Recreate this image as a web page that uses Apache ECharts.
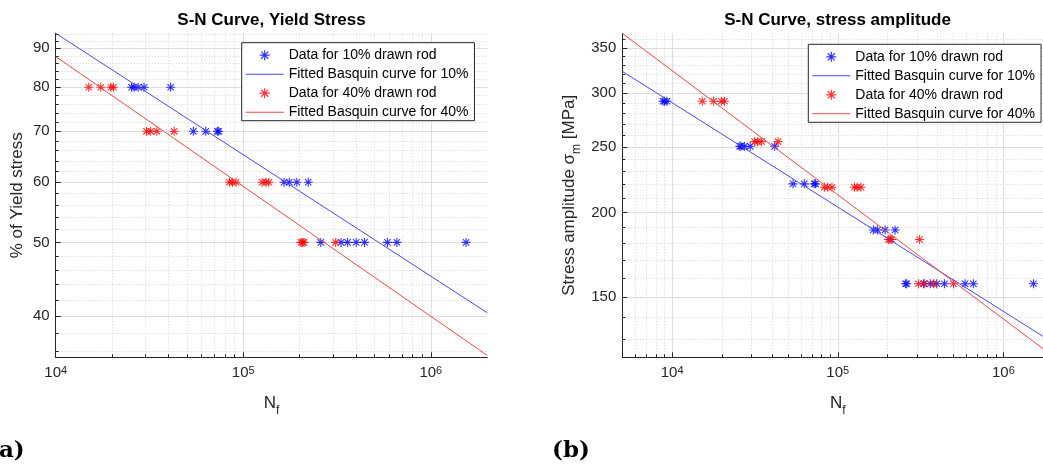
<!DOCTYPE html>
<html>
<head>
<meta charset="utf-8">
<script src="https://cdn.jsdelivr.net/npm/echarts@6/dist/echarts.min.js"></script>
<style>
  html, body { margin: 0; padding: 0; background: #fff; }
  #chart { width: 1043px; height: 471px; }
</style>
</head>
<body>
<div id="chart"></div>
<script>
// (a) % of yield stress against cycles to failure
var yield10N = [25400, 26200, 27500, 29600, 41000, 54200, 63100, 72800, 74000,
  165000, 176000, 193000, 222000, 259000, 332000, 360000, 400000, 443000, 587000, 659000, 1540000];
var yield10S = [80, 80, 80, 80, 80, 70, 70, 70, 70, 60, 60, 60, 60, 50, 50, 50, 50, 50, 50, 50, 50];
var yield40N = [15000, 17400, 19700, 20300, 30500, 32100, 34600, 42800, 84300, 87500, 91600,
  126000, 132000, 137000, 203000, 207000, 211000, 311000];
var yield40S = [80, 80, 80, 80, 70, 70, 70, 70, 60, 60, 60, 60, 60, 60, 50, 50, 50, 50];
var yieldFitN = [1e4, 2e6];
var yieldFit10S = [94.2, 40.4];
var yieldFit40S = [87.8, 35.5];

// (b) stress amplitude [MPa] against cycles to failure
var amp10N = [8800, 9000, 9300, 25600, 26000, 27300, 29600, 41600, 53700, 62800, 72100, 73400,
  164000, 174000, 193000, 222000, 257000, 261000, 330000, 362000, 396000, 441000, 587000, 659000, 1520000];
var amp10S = [292, 292, 292, 250.5, 250.5, 250.5, 250.5, 250.5, 220.5, 220.5, 220.5, 220.5,
  188.5, 188.5, 188.5, 188.5, 157, 157, 157, 157, 157, 157, 157, 157, 157];
var amp40N = [15200, 17800, 19800, 20700, 31500, 32800, 34700, 43600, 83000, 86900, 92300,
  126000, 131000, 138000, 202000, 207000, 212000, 312000, 307000, 333000, 379000, 500000];
var amp40S = [292, 292, 292, 292, 254.5, 254.5, 254.5, 254.5, 218, 218, 218, 218, 218, 218,
  182.5, 182.5, 182.5, 182.5, 157, 157, 157, 157];
var ampFitN = [5000, 2e6];
var ampFit10S = [323.2, 128.5];
var ampFit40S = [367.8, 122.7];

// tick values
var decadeX = [1e4, 1e5, 1e6];
var yieldMinorX = [2e4, 3e4, 4e4, 5e4, 6e4, 7e4, 8e4, 9e4, 2e5, 3e5, 4e5, 5e5, 6e5, 7e5, 8e5, 9e5];
var ampMinorX = [6e3, 7e3, 8e3, 9e3, 2e4, 3e4, 4e4, 5e4, 6e4, 7e4, 8e4, 9e4,
  2e5, 3e5, 4e5, 5e5, 6e5, 7e5, 8e5, 9e5];
var yieldMajorY = [40, 50, 60, 70, 80, 90];
var yieldMinorY = [36, 38, 42, 44, 46, 48, 52, 54, 56, 58, 62, 64, 66, 68, 72, 74, 76, 78, 82, 84, 86, 88, 92, 94];
var ampMajorY = [150, 200, 250, 300, 350];
var ampMinorY = [130, 140, 160, 170, 180, 190, 210, 220, 230, 240, 260, 270, 280, 290, 310, 320, 330, 340, 360];

var names = ['Data for 10% drawn rod', 'Fitted Basquin curve for 10%',
  'Data for 40% drawn rod', 'Fitted Basquin curve for 40%'];

var FONT = 'Liberation Sans, Arial, sans-serif';
var AXIS = '#262626';
var asterisk = 'path://M-0.6,-5L0.6,-5L0.6,5L-0.6,5Z M-5,-0.6L5,-0.6L5,0.6L-5,0.6Z ' +
  'M-3.11,-3.96L3.96,3.11L3.11,3.96L-3.96,-3.11Z M-3.96,3.11L3.11,-3.96L3.96,-3.11L-3.11,3.96Z';
var dash = 'path://M0,0L38,0L38,1L0,1Z';

function zip(xs, ys) {
  return xs.map(function (x, i) { return [x, ys[i]]; });
}

var subRich = {
  t: { fontSize: 17, color: AXIS, fontFamily: FONT, lineHeight: 18, verticalAlign: 'top' },
  s: { fontSize: 12, color: AXIS, fontFamily: FONT, padding: [9, 0, 0, 0], verticalAlign: 'bottom' }
};

function majorX(grid, min, max) {
  return {
    type: 'log', gridIndex: grid, position: 'bottom', min: min, max: max,
    name: '{t|N}{s|f}', nameLocation: 'middle', nameGap: 38,
    nameTextStyle: { rich: subRich },
    axisLine: { show: true, onZero: false, lineStyle: { color: AXIS, width: 1 } },
    axisTick: { show: true, inside: true, length: 5, customValues: decadeX, lineStyle: { color: AXIS } },
    axisLabel: {
      customValues: decadeX, margin: 8, color: AXIS,
      formatter: function (v) { return '{b|10}{e|' + Math.round(Math.log10(v)) + '}'; },
      rich: {
        b: { fontSize: 15, fontFamily: FONT, color: AXIS, lineHeight: 15, verticalAlign: 'bottom' },
        e: { fontSize: 11, fontFamily: FONT, color: AXIS, lineHeight: 11, padding: [0, 0, 7, 0], verticalAlign: 'top' }
      }
    },
    splitLine: { show: true, lineStyle: { color: '#dfdfdf', width: 1 } }
  };
}

function minorX(grid, min, max, vals) {
  return {
    type: 'log', gridIndex: grid, position: 'bottom', min: min, max: max,
    axisLine: { show: false },
    axisTick: { show: true, inside: true, length: 3, customValues: vals, lineStyle: { color: AXIS } },
    axisLabel: { show: false },
    splitLine: { show: true, lineStyle: { color: '#d6d6d6', width: 1, type: [1, 2] } }
  };
}

function majorY(grid, min, max, vals, name, gap) {
  return {
    type: 'log', gridIndex: grid, position: 'left', min: min, max: max,
    name: name, nameLocation: 'middle', nameGap: gap,
    nameTextStyle: { fontSize: 17, color: AXIS, fontFamily: FONT, rich: subRich },
    axisLine: { show: true, onZero: false, lineStyle: { color: AXIS, width: 1 } },
    axisTick: { show: true, inside: true, length: 5, customValues: vals, lineStyle: { color: AXIS } },
    axisLabel: { customValues: vals, margin: 6, fontSize: 15, color: AXIS, fontFamily: FONT },
    splitLine: { show: true, lineStyle: { color: '#dfdfdf', width: 1 } }
  };
}

function minorY(grid, min, max, vals) {
  return {
    type: 'log', gridIndex: grid, position: 'left', min: min, max: max,
    axisLine: { show: false },
    axisTick: { show: true, inside: true, length: 3, customValues: vals, lineStyle: { color: AXIS } },
    axisLabel: { show: false },
    splitLine: { show: true, lineStyle: { color: '#d6d6d6', width: 1, type: [1, 2] } }
  };
}

function scatter(name, xi, data, color) {
  return {
    name: name, type: 'scatter', xAxisIndex: xi, yAxisIndex: xi, data: data,
    symbol: asterisk, symbolSize: 9, symbolKeepAspect: true,
    itemStyle: { color: color }, z: 3
  };
}

function fitLine(name, xi, data, color) {
  return {
    name: name, type: 'line', xAxisIndex: xi, yAxisIndex: xi, data: data,
    showSymbol: false, symbol: 'none', clip: true,
    lineStyle: { color: color, width: 1 }, itemStyle: { color: color }, z: 4
  };
}

function legend(left, top) {
  return {
    left: left, top: top, orient: 'vertical', selectedMode: false,
    backgroundColor: '#fff', borderColor: AXIS, borderWidth: 1,
    padding: [5, 6, 1, 4], itemWidth: 38, itemHeight: 10, itemGap: 4,
    symbolKeepAspect: true,
    textStyle: { fontSize: 14, color: '#000', fontFamily: FONT, lineHeight: 15 },
    data: [
      { name: names[0], icon: asterisk },
      { name: names[1], icon: dash },
      { name: names[2], icon: asterisk },
      { name: names[3], icon: dash }
    ]
  };
}

var chart = echarts.init(document.getElementById('chart'));

var option = {
  animation: false,
  backgroundColor: '#fff',
  title: [
    { text: 'S-N Curve, Yield Stress', left: 271.5, top: 12, padding: 0, textAlign: 'center',
      textStyle: { fontSize: 17, fontWeight: 'bold', color: '#000', fontFamily: FONT } },
    { text: 'S-N Curve, stress amplitude', left: 837.5, top: 12, padding: 0, textAlign: 'center',
      textStyle: { fontSize: 17, fontWeight: 'bold', color: '#000', fontFamily: FONT } }
  ],
  legend: [legend(241.7, 42.7), legend(808.3, 44.3)],
  grid: [
    { left: 55.7, top: 33.3, width: 431.6, height: 324, outerBoundsMode: 'none' },
    { left: 622.3, top: 33.3, width: 430.9, height: 324, outerBoundsMode: 'none' }
  ],
  xAxis: [
    majorX(0, 1e4, 2e6),
    minorX(0, 1e4, 2e6, yieldMinorX),
    majorX(1, 5000, 2e6),
    minorX(1, 5000, 2e6, ampMinorX)
  ],
  yAxis: [
    majorY(0, 35.3, 94.2, yieldMajorY, '% of Yield stress', 30),
    minorY(0, 35.3, 94.2, yieldMinorY),
    majorY(1, 122.3, 367.8, ampMajorY, '{t|Stress amplitude }{t|\u03c3}{s|m}{t| [MPa]}', 40),
    minorY(1, 122.3, 367.8, ampMinorY)
  ],
  series: [
    scatter(names[0], 0, zip(yield10N, yield10S), '#0000ff'),
    fitLine(names[1], 0, zip(yieldFitN, yieldFit10S), '#4a4af2'),
    scatter(names[2], 0, zip(yield40N, yield40S), '#ff0000'),
    fitLine(names[3], 0, zip(yieldFitN, yieldFit40S), '#e84a4a'),
    scatter(names[0], 2, zip(amp10N, amp10S), '#0000ff'),
    fitLine(names[1], 2, zip(ampFitN, ampFit10S), '#4a4af2'),
    scatter(names[2], 2, zip(amp40N, amp40S), '#ff0000'),
    fitLine(names[3], 2, zip(ampFitN, ampFit40S), '#e84a4a')
  ],
  graphic: [
    { type: 'text', x: -12, y: 440, style: { text: '(a)', font: 'bold 23px "DejaVu Serif"', fill: '#000' } },
    { type: 'text', x: 552, y: 440, style: { text: '(b)', font: 'bold 23px "DejaVu Serif"', fill: '#000' } }
  ]
};

chart.setOption(option);
</script>
</body>
</html>
